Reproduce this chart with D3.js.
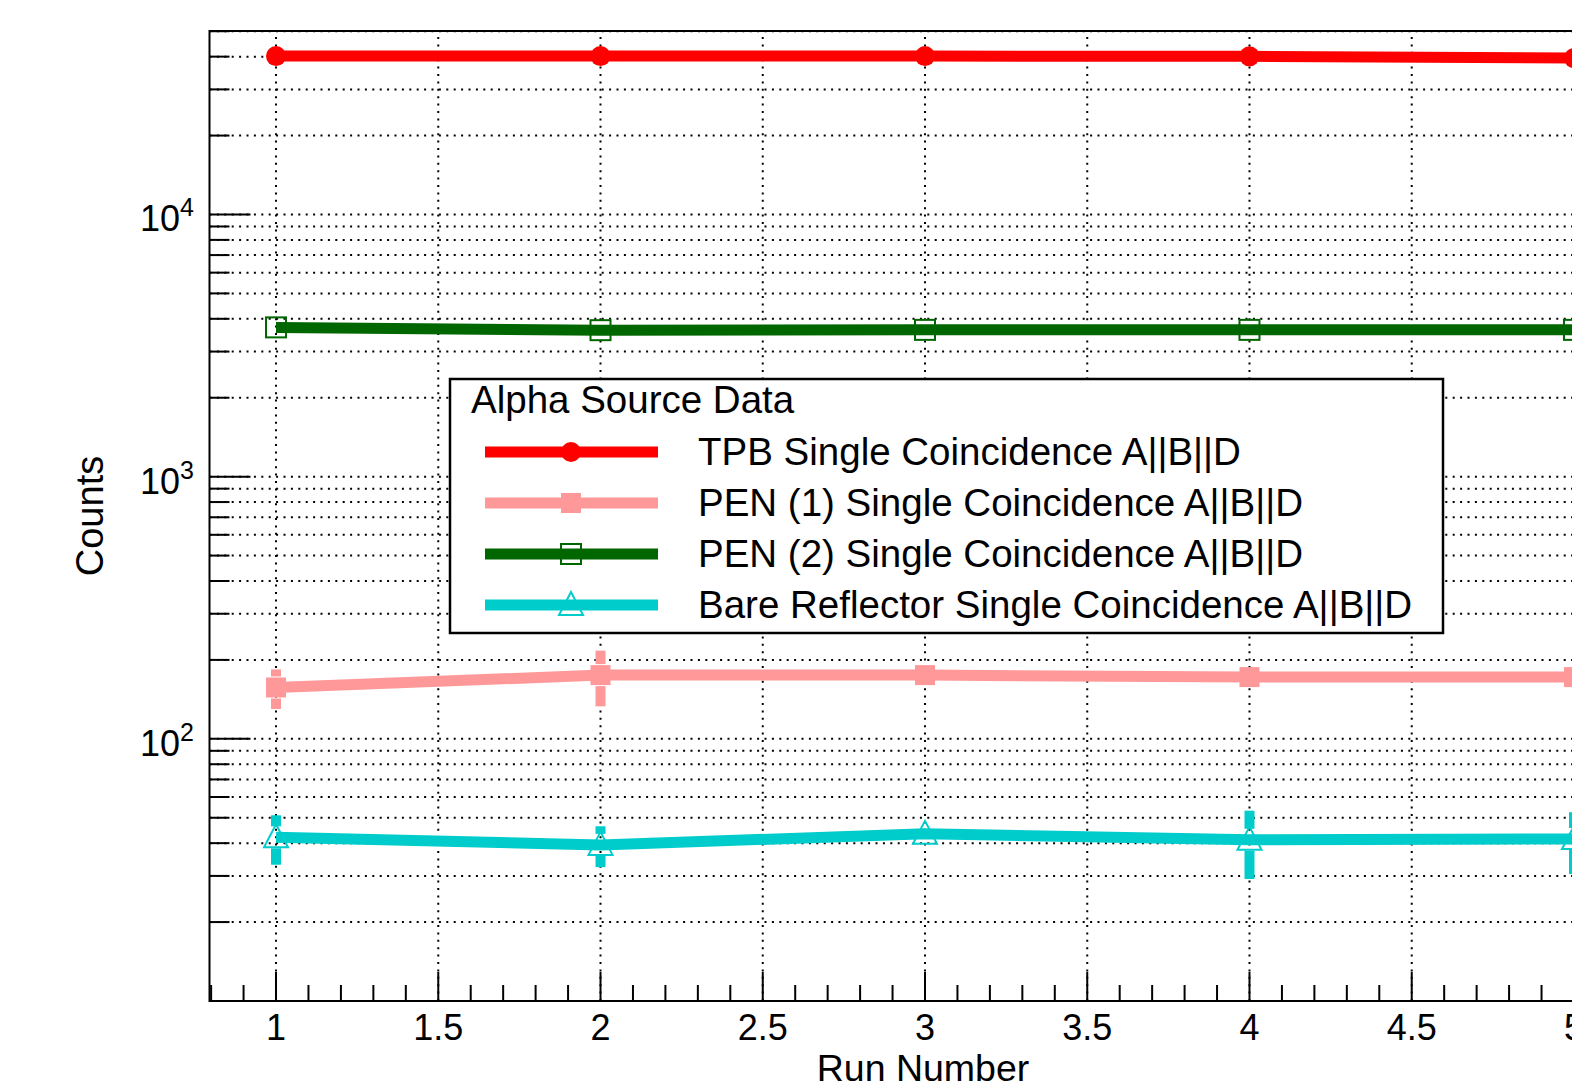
<!DOCTYPE html>
<html lang="en">

<head>
    <meta charset="utf-8">
    <title>Alpha Source Data</title>
    <script src="https://d3js.org/d3.v7.min.js"></script>
    <style>
        body { margin: 0; background: #fff; }
        svg { display: block; font-family: 'Liberation Sans', Arial, Helvetica, sans-serif; }
    </style>
</head>

<body>
    <script>
        // values
        const runs = [1, 2, 3, 4, 5]
        const tpb = [40200, 40200, 40200, 40100, 39500]
        const tpbErr = [200, 200, 200, 200, 200]
        const pen1 = [157, 175, 175, 172, 172]
        const pen1Err = [27, 42, 10, 10, 10]
        const pen2 = [3710, 3620, 3630, 3630, 3630]
        const pen2Err = [60, 60, 60, 60, 60]
        const bare = [42.1, 39.4, 43.4, 41.2, 41.5]
        const bareErr = [9, 7, 3, 12, 11]

        const xTicks = [1, 1.5, 2, 2.5, 3, 3.5, 4, 4.5, 5]
        const yLabels = [100, 1000, 10000]
        const legendTitle = 'Alpha Source Data'
        const seriesNames = ['TPB Single Coincidence A||B||D', 'PEN (1) Single Coincidence A||B||D',
            'PEN (2) Single Coincidence A||B||D', 'Bare Reflector Single Coincidence A||B||D']

        const series = [
            { name: seriesNames[0], y: tpb, err: tpbErr, color: '#ff0000', marker: 'circle' },
            { name: seriesNames[1], y: pen1, err: pen1Err, color: '#ff9999', marker: 'square' },
            { name: seriesNames[2], y: pen2, err: pen2Err, color: '#006600', marker: 'openSquare' },
            { name: seriesNames[3], y: bare, err: bareErr, color: '#00cccc', marker: 'openTriangle' }
        ]

        const m = { width: 1572, height: 1088 }
        const frame = { left: 209.5, right: 1640.5, top: 31, bottom: 1001 }

        const svg = d3.select('body').append('svg')
            .attr('width', m.width)
            .attr('height', m.height)

        const x = d3.scaleLinear().domain([0.795, 5.205]).range([frame.left, frame.right])
        const y = d3.scaleLog().domain([10, 50100]).range([frame.bottom, frame.top])

        // log ticks: 1..9 times each decade
        let yTicks = []
        for (let p = 1; p <= 4; p++) {
            for (let k = 1; k <= 9; k++) {
                const v = k * Math.pow(10, p)
                if (v > 10 && v < 50100) yTicks.push({ v: v, major: k === 1 })
            }
        }
        const xMinor = d3.range(8, 53).map(d => d / 10)

        // grid
        const grid = svg.append('g')
            .attr('stroke', '#000')
            .attr('stroke-width', 2)
            .attr('stroke-dasharray', '2 5.4')
        grid.selectAll('.hg').data(yTicks).enter().append('line')
            .attr('x1', frame.left).attr('x2', frame.right)
            .attr('y1', d => y(d.v)).attr('y2', d => y(d.v))
        grid.selectAll('.vg').data(xTicks).enter().append('line')
            .attr('y1', frame.bottom).attr('y2', frame.top)
            .attr('x1', d => x(d)).attr('x2', d => x(d))

        // ticks
        const ticks = svg.append('g').attr('stroke', '#000').attr('stroke-width', 2)
        ticks.selectAll('.yt').data(yTicks).enter().append('line')
            .attr('x1', frame.left).attr('x2', d => frame.left + (d.major ? 41 : 20))
            .attr('y1', d => y(d.v)).attr('y2', d => y(d.v))
        ticks.selectAll('.xt').data(xMinor).enter().append('line')
            .attr('x1', d => x(d)).attr('x2', d => x(d))
            .attr('y1', frame.bottom)
            .attr('y2', d => frame.bottom - (Math.abs(d * 2 - Math.round(d * 2)) < 1e-6 ? 29 : 16))

        // frame
        svg.append('rect')
            .attr('x', frame.left).attr('y', frame.top)
            .attr('width', frame.right - frame.left).attr('height', frame.bottom - frame.top)
            .attr('fill', 'none').attr('stroke', '#000').attr('stroke-width', 2)

        // markers
        function drawMarker(g, type, cx, cy, color) {
            if (type === 'circle') {
                g.append('circle').attr('cx', cx).attr('cy', cy).attr('r', 10).attr('fill', color)
            } else if (type === 'square') {
                g.append('rect').attr('x', cx - 10).attr('y', cy - 10).attr('width', 20).attr('height', 20).attr('fill', color)
            } else if (type === 'openSquare') {
                g.append('rect').attr('x', cx - 10).attr('y', cy - 10).attr('width', 20).attr('height', 20)
                    .attr('fill', 'none').attr('stroke', color).attr('stroke-width', 2)
            } else {
                g.append('path')
                    .attr('d', `M${cx},${cy - 13}L${cx + 12},${cy + 10}L${cx - 12},${cy + 10}Z`)
                    .attr('fill', 'none').attr('stroke', color).attr('stroke-width', 2)
            }
        }

        const line = d3.line().x(d => x(d[0])).y(d => y(d[1]))
        const plot = svg.append('g')

        series.forEach(function (s) {
            const pts = runs.map((r, i) => [r, s.y[i], s.err[i]])
            plot.append('path')
                .attr('d', line(pts))
                .attr('fill', 'none')
                .attr('stroke', s.color)
                .attr('stroke-width', 11)
                .attr('stroke-linejoin', 'miter')

            // error bars leave a gap for the marker
            pts.forEach(function (p) {
                const cx = x(p[0]), cy = y(p[1])
                const top = y(p[1] + p[2]), bot = y(p[1] - p[2])
                const gap = 11
                if (cy - gap > top) {
                    plot.append('line').attr('x1', cx).attr('x2', cx).attr('y1', top).attr('y2', cy - gap)
                        .attr('stroke', s.color).attr('stroke-width', 10)
                }
                if (bot > cy + gap) {
                    plot.append('line').attr('x1', cx).attr('x2', cx).attr('y1', cy + gap).attr('y2', bot)
                        .attr('stroke', s.color).attr('stroke-width', 10)
                }
                drawMarker(plot, s.marker, cx, cy, s.color)
            })
        })

        // axis labels
        svg.selectAll('.xl').data(xTicks).enter().append('text')
            .attr('x', d => x(d)).attr('y', 1040)
            .attr('text-anchor', 'middle')
            .attr('font-size', 36)
            .text(d => d3.format('')(d))

        const yl = svg.selectAll('.yl').data(yLabels).enter().append('text')
            .attr('x', 194).attr('y', d => y(d) + 17)
            .attr('text-anchor', 'end')
            .attr('font-size', 36)
        yl.append('tspan').text('10')
        yl.append('tspan').attr('dy', -15).attr('font-size', 25).text(d => Math.round(Math.log10(d)))

        svg.append('text')
            .attr('x', (frame.left + frame.right) / 2 - 2).attr('y', 1081)
            .attr('text-anchor', 'middle')
            .attr('font-size', 37.5)
            .text('Run Number')

        svg.append('text')
            .attr('transform', `translate(103, ${(frame.top + frame.bottom) / 2}) rotate(-90)`)
            .attr('text-anchor', 'middle')
            .attr('font-size', 38)
            .text('Counts')

        // legend
        const leg = svg.append('g')
        leg.append('rect')
            .attr('x', 450).attr('y', 379).attr('width', 993).attr('height', 254)
            .attr('fill', '#fff').attr('stroke', '#000').attr('stroke-width', 2.5)
        leg.append('text')
            .attr('x', 471).attr('y', 413)
            .attr('font-size', 38.5)
            .text(legendTitle)
        series.forEach(function (s, i) {
            const cy = 452 + i * 51
            leg.append('line')
                .attr('x1', 485).attr('x2', 658).attr('y1', cy).attr('y2', cy)
                .attr('stroke', s.color).attr('stroke-width', 11)
            drawMarker(leg, s.marker, 571, cy, s.color)
            leg.append('text')
                .attr('x', 698).attr('y', cy + 13)
                .attr('font-size', 38.5)
                .text(s.name)
        })
    </script>
</body>

</html>
